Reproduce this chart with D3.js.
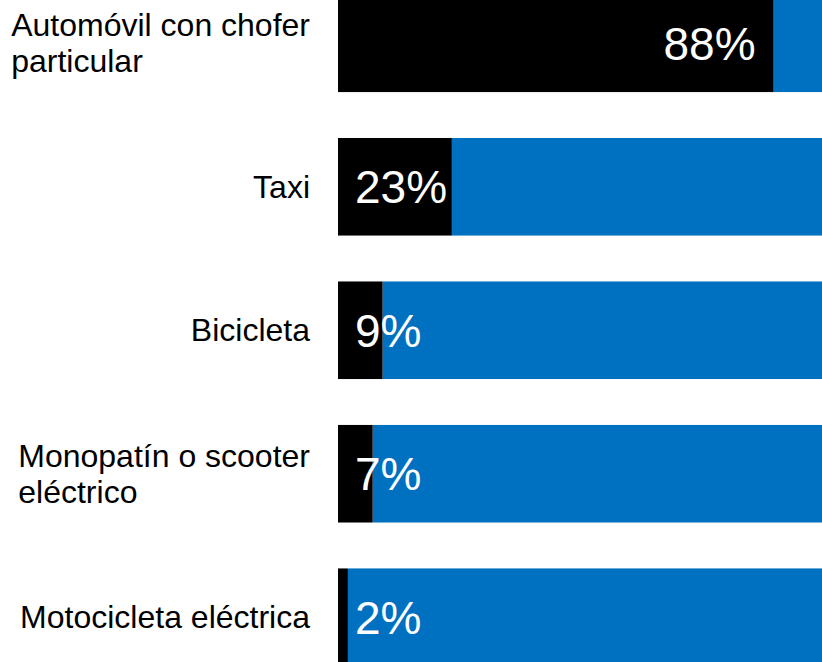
<!DOCTYPE html>
<html>
<head>
<meta charset="utf-8">
<script src="https://cdn.jsdelivr.net/npm/d3@7"></script>
<style>
  html, body { margin: 0; padding: 0; background: #fff; overflow: hidden; }
  svg { display: block; }
</style>
</head>
<body>
<svg id="chart" width="822" height="662"></svg>
<script>
// Share of respondents per transport mode (percent)
const categories = [
  ["Automóvil con chofer", "particular"],
  ["Taxi"],
  ["Bicicleta"],
  ["Monopatín o scooter", "eléctrico"],
  ["Motocicleta eléctrica"]
];
const values = [88, 23, 9, 7, 2];
const total = 100;

const svg = d3.select("#chart");
const font = "'Liberation Sans', Arial, Helvetica, sans-serif";

const keys = categories.map((c, i) => i);
const y = d3.scaleBand().domain(keys).range([-5.5, 666]).paddingInner(0.32).paddingOuter(0);
const x = d3.scaleLinear().domain([0, total]).range([338, 833]);

const rows = svg.selectAll("g.row").data(keys).join("g").attr("class", "row");

// remainder (blue) then share (black)
rows.append("rect")
  .attr("x", i => x(values[i]))
  .attr("y", i => y(i))
  .attr("width", i => x(total) - x(values[i]))
  .attr("height", y.bandwidth())
  .attr("fill", "#0070C0");

rows.append("rect")
  .attr("x", x(0))
  .attr("y", i => y(i))
  .attr("width", i => x(values[i]) - x(0))
  .attr("height", y.bandwidth())
  .attr("fill", "#000");

// value labels
rows.append("text")
  .attr("font-family", font)
  .attr("font-size", 46)
  .attr("fill", "#fff")
  .attr("y", i => y(i) + y.bandwidth() / 2 + 16.5)
  .text(i => values[i] + "%")
  .each(function(i) {
    const w = this.getComputedTextLength();
    const endX = x(values[i]) - 18;
    const startX = Math.max(x(0) + 17, endX - w);
    d3.select(this).attr("x", startX);
  });

// category labels: block right-aligned, lines left-aligned
const labelRight = 310, lineH = 36;
rows.append("text")
  .attr("font-family", font)
  .attr("font-size", 32)
  .attr("fill", "#000")
  .each(function(i) {
    const t = d3.select(this);
    const lines = categories[i];
    const cy = y(i) + y.bandwidth() / 2;
    const firstBase = cy + 11 - (lines.length - 1) * lineH / 2;
    lines.forEach((ln, k) => {
      t.append("tspan").attr("y", firstBase + k * lineH).text(ln);
    });
    const maxW = d3.max(t.selectAll("tspan").nodes(), n => n.getComputedTextLength());
    t.selectAll("tspan").attr("x", labelRight - maxW);
  });
</script>
</body>
</html>
